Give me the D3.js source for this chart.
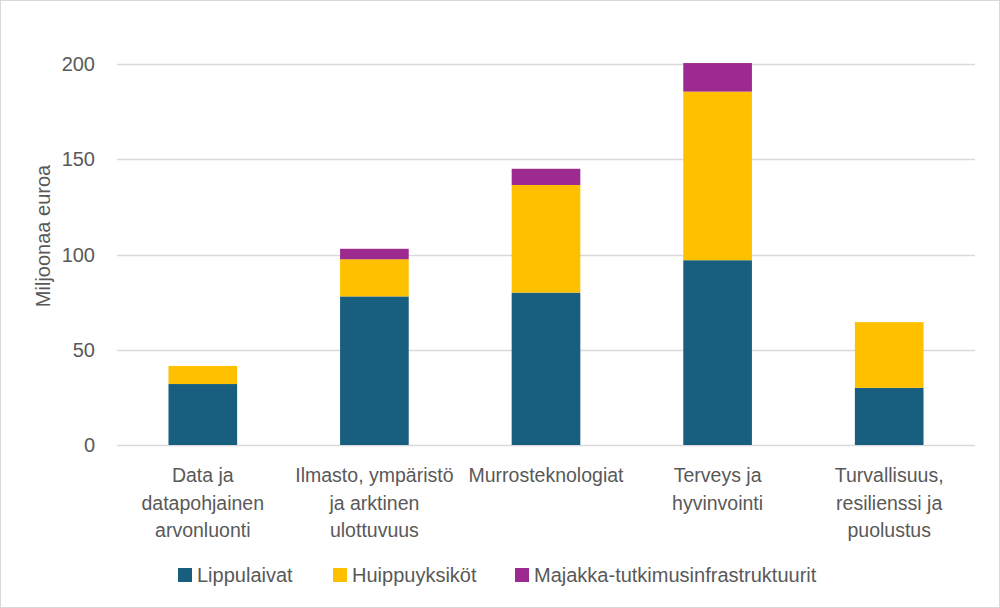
<!DOCTYPE html>
<html>
<head>
<meta charset="utf-8">
<script src="https://cdn.jsdelivr.net/npm/d3@7"></script>
<style>
  body { margin: 0; background: #fff; }
  svg { display: block; }
</style>
</head>
<body>
<div id="chart"></div>
<script>
// Data
const categories = [
  ['Data ja', 'datapohjainen', 'arvonluonti'],
  ['Ilmasto, ympäristö', 'ja arktinen', 'ulottuvuus'],
  ['Murrosteknologiat'],
  ['Terveys ja', 'hyvinvointi'],
  ['Turvallisuus,', 'resilienssi ja', 'puolustus']
];
const seriesNames = ['Lippulaivat', 'Huippuyksiköt', 'Majakka-tutkimusinfrastruktuurit'];
const lippulaivat = [32, 78, 80, 97, 30];
const huippuyksikot = [9.5, 19.5, 56.5, 88.5, 34.5];
const majakka = [0, 5.5, 8.5, 15, 0];
const yTicks = [0, 50, 100, 150, 200];
const colors = ['#175e7f', '#ffc000', '#9c2a8f'];

const width = 1000, height = 608;
const margin = { left: 117, right: 25, top: 64, bottom: 163 };

const svg = d3.select('#chart').append('svg')
  .attr('width', width)
  .attr('height', height);

// outer border
svg.append('rect')
  .attr('x', 0.5).attr('y', 0.5)
  .attr('width', width - 1).attr('height', height - 1)
  .attr('fill', '#fff').attr('stroke', '#d9d9d9');

const keys = categories.map((c, i) => i);
const rows = keys.map(i => ({
  idx: i,
  [seriesNames[0]]: lippulaivat[i],
  [seriesNames[1]]: huippuyksikot[i],
  [seriesNames[2]]: majakka[i]
}));

const x = d3.scaleBand()
  .domain(keys)
  .range([margin.left, width - margin.right])
  .paddingInner(0.6)
  .paddingOuter(0.3);

const y = d3.scaleLinear()
  .domain([0, 200])
  .range([height - margin.bottom, margin.top]);

const font = '"Liberation Sans", Arial, sans-serif';
const textColor = '#595959';

// gridlines
svg.append('g')
  .selectAll('line')
  .data(yTicks)
  .join('line')
  .attr('x1', margin.left)
  .attr('x2', width - margin.right)
  .attr('y1', d => Math.round(y(d)) + 0.5)
  .attr('y2', d => Math.round(y(d)) + 0.5)
  .attr('stroke', '#d9d9d9')
  .attr('stroke-width', 1.5);

// y tick labels
svg.append('g')
  .selectAll('text')
  .data(yTicks)
  .join('text')
  .attr('x', 95)
  .attr('y', d => y(d))
  .attr('dy', '0.35em')
  .attr('text-anchor', 'end')
  .style('font-family', font)
  .style('font-size', '20px')
  .style('fill', textColor)
  .text(d => d);

// y axis title
svg.append('text')
  .attr('transform', `translate(50, 236) rotate(-90)`)
  .attr('text-anchor', 'middle')
  .style('font-family', font)
  .style('font-size', '20px')
  .style('fill', textColor)
  .text('Miljoonaa euroa');

// stacked bars
const stack = d3.stack().keys(seriesNames);
const layers = stack(rows);

svg.append('g')
  .selectAll('g')
  .data(layers)
  .join('g')
  .attr('fill', (d, i) => colors[i])
  .selectAll('rect')
  .data(d => d)
  .join('rect')
  .attr('x', d => x(d.data.idx))
  .attr('width', x.bandwidth())
  .attr('y', d => y(d[1]))
  .attr('height', d => y(d[0]) - y(d[1]));

// category labels
const catG = svg.append('g')
  .selectAll('text')
  .data(categories)
  .join('text')
  .attr('x', (d, i) => x(i) + x.bandwidth() / 2)
  .attr('y', 482)
  .attr('text-anchor', 'middle')
  .style('font-family', font)
  .style('font-size', '19.5px')
  .style('fill', textColor);

catG.selectAll('tspan')
  .data(d => d)
  .join('tspan')
  .attr('x', function () { return d3.select(this.parentNode).attr('x'); })
  .attr('dy', (d, i) => i === 0 ? 0 : 27.5)
  .text(d => d);

// legend
const legendX = [178, 333, 515];
const legend = svg.append('g')
  .selectAll('g')
  .data(seriesNames)
  .join('g')
  .attr('transform', (d, i) => `translate(${legendX[i]}, 575)`);

legend.append('rect')
  .attr('x', 0).attr('y', -7)
  .attr('width', 14).attr('height', 14)
  .attr('fill', (d, i) => colors[i]);

legend.append('text')
  .attr('x', 19)
  .attr('y', 0)
  .attr('dy', '0.35em')
  .style('font-family', font)
  .style('font-size', '20px')
  .style('fill', textColor)
  .text(d => d);
</script>
</body>
</html>
